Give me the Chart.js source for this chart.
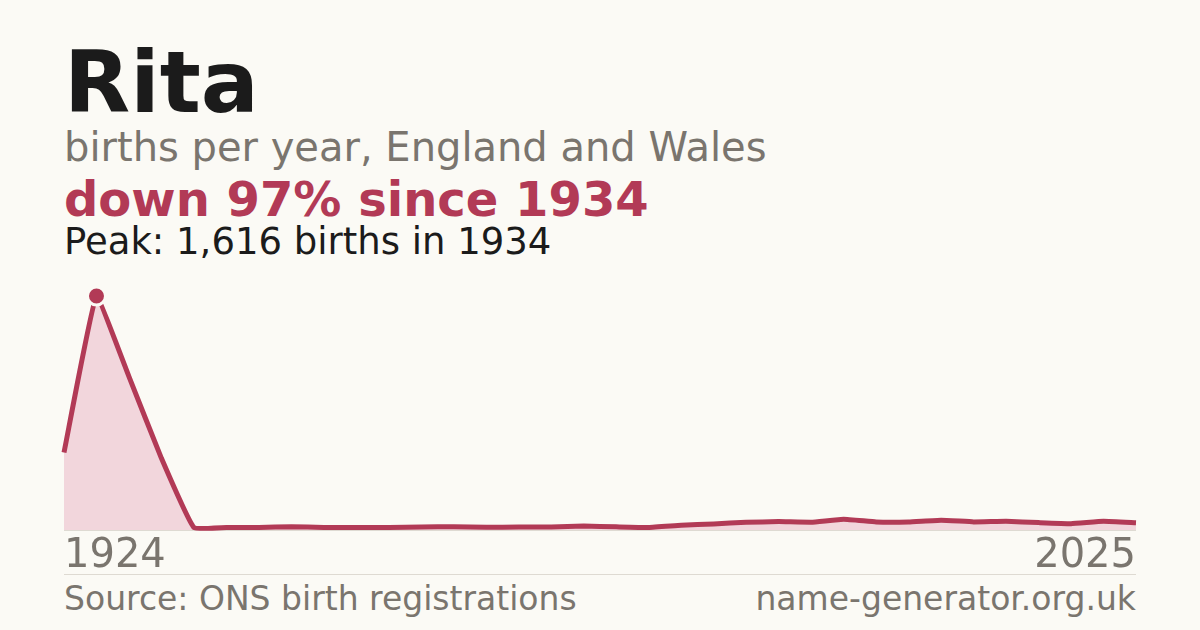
<!DOCTYPE html>
<html>
<head>
<meta charset="utf-8">
<script src="https://cdn.jsdelivr.net/npm/chart.js@4.4.1/dist/chart.umd.min.js"></script>
<style>
  html, body { margin: 0; padding: 0; }
  body {
    width: 1200px; height: 630px; overflow: hidden;
    background: #fbfaf5; position: relative;
    font-family: "DejaVu Sans", sans-serif;
  }
  .t { position: absolute; left: 64px; line-height: 1; white-space: nowrap; }
  #title { top: 39px; font-size: 86px; font-weight: bold; color: #1b1b1b; }
  #sub { top: 127px; font-size: 40px; color: #7a756e; }
  #change { top: 175px; font-size: 48px; font-weight: bold; color: #b23a56; }
  #peak { top: 223px; font-size: 37px; color: #1b1b1b; }
  #source { top: 582px; font-size: 33px; color: #7a756e; }
  #site { top: 582px; left: auto; right: 64px; font-size: 33px; color: #7a756e; }
  #chart-wrap { position: absolute; left: 44px; top: 270px; width: 1112px; height: 304px; }
  .rule { position: absolute; left: 64px; width: 1072px; height: 1px; background: #dedad2; }
</style>
</head>
<body>
<div class="t" id="title">Rita</div>
<div class="t" id="sub">births per year, England and Wales</div>
<div class="t" id="change">down 97% since 1934</div>
<div class="t" id="peak">Peak: 1,616 births in 1934</div>

<div class="rule" style="top:530px"></div>
<div id="chart-wrap"><canvas id="rita-chart"></canvas></div>
<div class="rule" style="top:574px"></div>

<div class="t" id="source">Source: ONS birth registrations</div>
<div class="t" id="site">name-generator.org.uk</div>

<script>
// Data
const years = [
    1924, 1934, 1944, 1954, 1964, 1974, 1984, 1994,
    2000, 2001, 2002, 2003, 2004, 2005, 2006, 2007, 2008, 2009, 2010,
    2011, 2012, 2013, 2014, 2015, 2016, 2017, 2018, 2019, 2020, 2021,
    2022, 2023, 2024, 2025,
];
const births = [
    535, 1616, 1059, 495, 17, 17, 18, 22,
    18, 17, 18, 21, 22, 19, 20, 21, 27, 22, 18,
    33, 42, 53, 58, 54, 74, 56, 56, 68, 56, 60,
    51, 44, 60, 50,
];
const tickYears = [1924, 2025];
const peakYear = 1934;

const red = "#b23a56";

const ctx = document.getElementById("rita-chart").getContext("2d");
const chart = new Chart(ctx, {
    type: "line",
    data: {
        labels: years,
        datasets: [
            {
                data: births,
                borderColor: red,
                borderWidth: 5,
                backgroundColor: "#f2d6dc",
                fill: "origin",
                tension: 0.1,
                clip: false,
                pointRadius: years.map((y) => (y === peakYear ? 9 : 0)),
                pointBackgroundColor: red,
                pointBorderColor: "#fbfaf5",
                pointBorderWidth: 3,
                pointHoverRadius: 0,
            },
        ],
    },
    options: {
        responsive: true,
        maintainAspectRatio: false,
        animation: false,
        layout: {
            padding: { top: 26, left: 20, right: 20, bottom: 0 },
        },
        scales: {
            x: {
                grid: { display: false, drawTicks: false },
                border: { display: false },
                ticks: {
                    autoSkip: false,
                    maxRotation: 0,
                    align: "inner",
                    padding: 3,
                    color: "#7a756e",
                    font: { family: "DejaVu Sans", size: 40 },
                    callback: function (value, index) {
                        const y = years[index];
                        return tickYears.includes(y) ? String(y) : "";
                    },
                },
                afterFit: (scale) => {
                    scale.height = 44;
                },
            },
            y: {
                display: false,
                min: 0,
                max: 1616,
            },
        },
        plugins: {
            legend: { display: false },
            tooltip: { enabled: false },
        },
    },
});
</script>
</body>
</html>
